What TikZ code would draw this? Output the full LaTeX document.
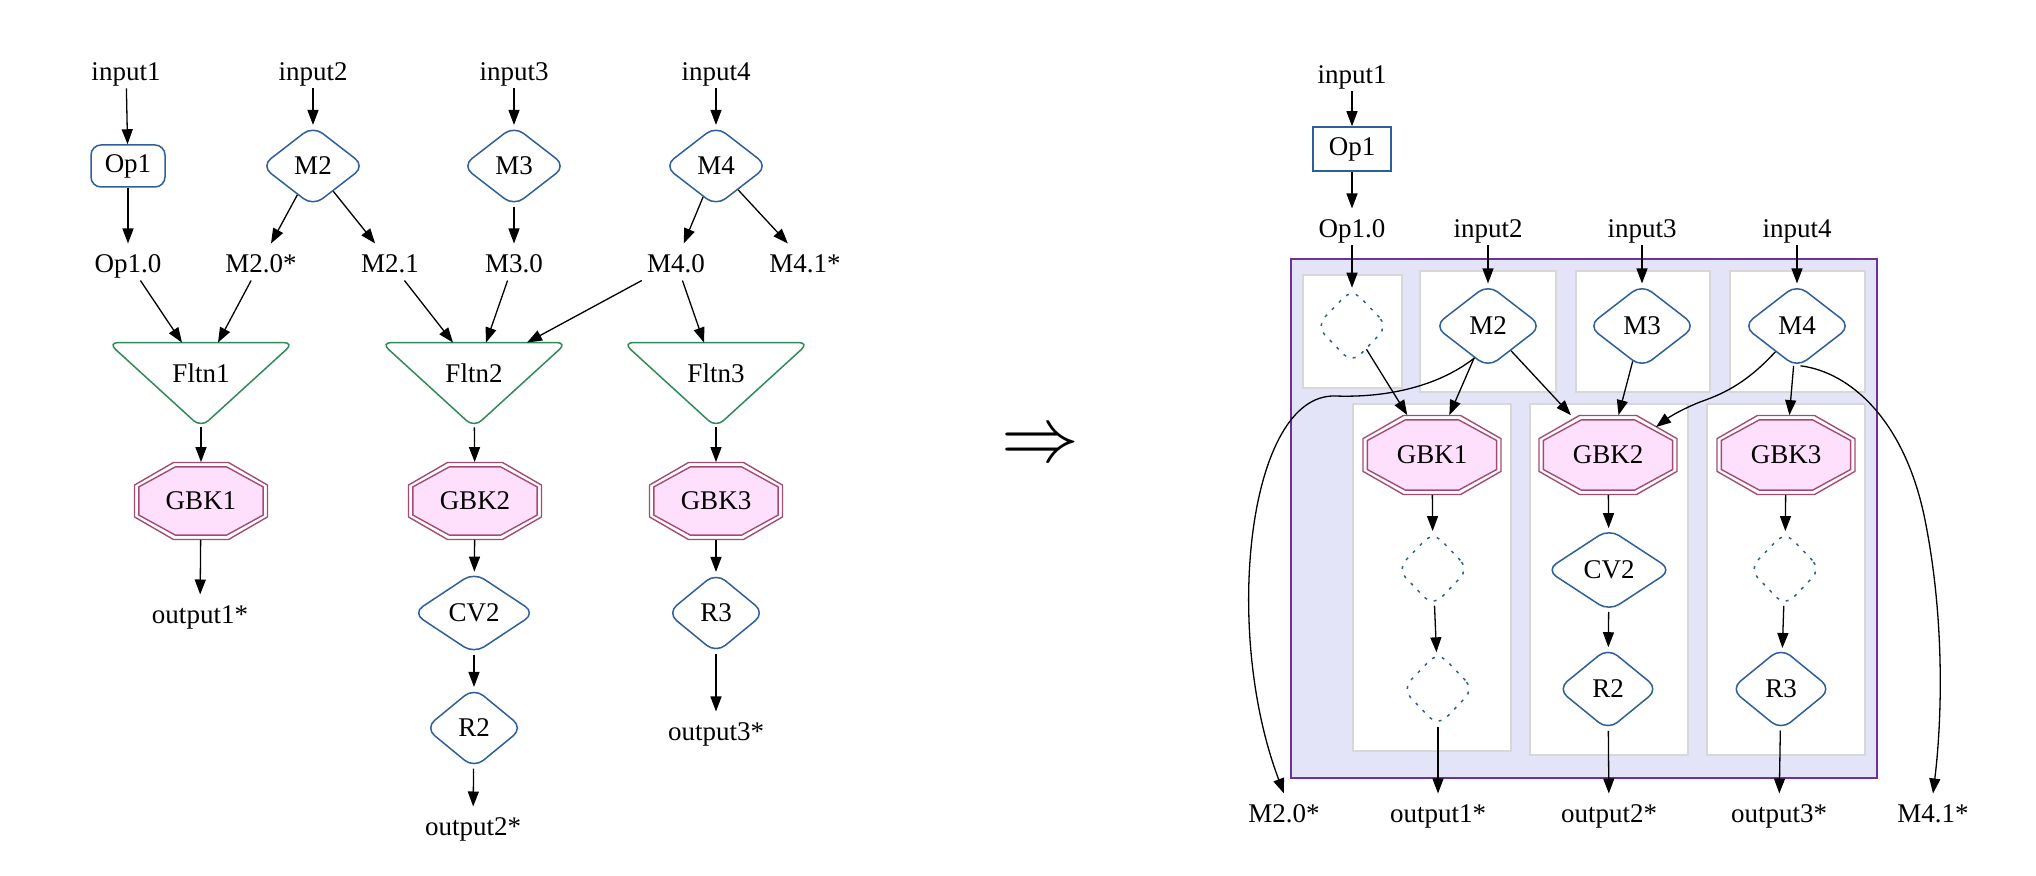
\documentclass[tikz,border=0pt]{standalone}
\usepackage{fontspec}
\setmainfont{Liberation Serif}
\usetikzlibrary{shapes.geometric,arrows.meta}

\definecolor{nodeblue}{RGB}{45,95,155}
\definecolor{fltngreen}{RGB}{46,139,87}
\definecolor{gbkcol}{RGB}{165,75,115}
\definecolor{gbkfill}{RGB}{255,224,252}
\definecolor{clusterfill}{RGB}{228,228,248}
\definecolor{clusterline}{RGB}{110,50,150}
\definecolor{subline}{RGB}{215,215,215}

% octagon round the origin, half width #1, half height #2
\newcommand{\octo}[2]{({-(#1)},{0.414*(#2)}) -- ({-0.414*(#1)},{#2}) -- ({0.414*(#1)},{#2}) -- ({#1},{0.414*(#2)}) -- ({#1},{-0.414*(#2)}) -- ({0.414*(#1)},{-(#2)}) -- ({-0.414*(#1)},{-(#2)}) -- ({-(#1)},{-0.414*(#2)}) -- cycle}
% double octagon node: name, position, label, half width, half height
\newcommand{\gbk}[5]{%
  \begin{scope}[shift={(#2)}]
    \draw[gbkedge] \octo{#4}{#5};
    \filldraw[gbkedge,fill=gbkfill] \octo{#4-2.2pt}{#5-2.2pt};
  \end{scope}
  \node[gbkbox,minimum width=2*#4,minimum height=2*#5] (#1) at (#2) {#3};}

\begin{document}
\begin{tikzpicture}[x=0.5pt,y=-0.5pt,font=\fontsize{13.5}{16}\selectfont,
  lbl/.style={inner sep=3pt,text height=11.5pt,text depth=0.6pt},
  mnode/.style={diamond,draw=nodeblue,line width=0.75pt,rounded corners=6pt,inner sep=0pt},
  ghost/.style={mnode,dash pattern=on 1.5pt off 3.5pt,minimum width=36pt,minimum height=37.5pt},
  opbox/.style={rectangle,draw=nodeblue,line width=0.75pt,minimum width=37pt,minimum height=21pt,inner sep=0pt},
  fltn/.style={minimum width=92.5pt,minimum height=42pt,inner sep=0pt,text height=9.3pt,text depth=12.1pt},
  fltnline/.style={draw=fltngreen,line width=0.75pt,rounded corners=5pt},
  gbkedge/.style={draw=gbkcol,line width=0.7pt},
  gbkbox/.style={inner sep=0pt},
  conn/.style={line width=0.65pt,-{Triangle[length=7.5pt,width=5.5pt]}},
  cluster/.style={fill=clusterfill,draw=clusterline,line width=0.75pt},
  subcluster/.style={fill=white,draw=subline,line width=0.9pt}]
\useasboundingbox (0,0) rectangle (2036,876);

% left graph
\node[lbl] (li1) at (126,70) {input1};
\node[lbl] (li2) at (313,70) {input2};
\node[lbl] (li3) at (514,70) {input3};
\node[lbl] (li4) at (716,70) {input4};
\node[opbox,rounded corners=5pt] (lop1) at (128,166) {Op1};
\node[mnode,minimum width=52pt,minimum height=40.3pt] (lm2) at (313,166) {M2};
\node[mnode,minimum width=52pt,minimum height=40.3pt] (lm3) at (514,166) {M3};
\node[mnode,minimum width=52pt,minimum height=40.3pt] (lm4) at (716,166) {M4};
\node[lbl] (lo10) at (128,262) {Op1.0};
\node[lbl] (lm20) at (261,262) {M2.0*};
\node[lbl] (lm21) at (390,262) {M2.1};
\node[lbl] (lm30) at (514,262) {M3.0};
\node[lbl] (lm40) at (676,262) {M4.0};
\node[lbl] (lm41) at (805,262) {M4.1*};
\node[fltn] (lf1) at (201,385) {Fltn1};
\node[fltn] (lf2) at (474,385) {Fltn2};
\node[fltn] (lf3) at (716,385) {Fltn3};
\foreach \f in {lf1,lf2,lf3}
  \draw[fltnline] (\f.north west) -- (\f.north east) -- (\f.south) -- cycle;
\gbk{lg1}{201,501}{GBK1}{33.25pt}{19.25pt}
\gbk{lg2}{475,501}{GBK2}{33.25pt}{19.25pt}
\gbk{lg3}{716,501}{GBK3}{33.25pt}{19.25pt}
\node[lbl] (lout1) at (200,613) {output1*};
\node[mnode,minimum width=61.5pt,minimum height=40.8pt] (lcv2) at (474,613) {CV2};
\node[mnode,minimum width=49pt,minimum height=40.3pt] (lr2) at (474,728) {R2};
\node[mnode,minimum width=49pt,minimum height=40.3pt] (lr3) at (716,613) {R3};
\node[lbl] (lout2) at (473,825) {output2*};
\node[lbl] (lout3) at (716,730) {output3*};

\foreach \a/\b in {li1/lop1,lop1/lo10,li2/lm2,lm2/lm20,lm2/lm21,li3/lm3,lm3/lm30,li4/lm4,lm4/lm40,lm4/lm41,
    lf1/lg1,lf2/lg2,lf3/lg3,lg1/lout1,lg2/lcv2,lcv2/lr2,lr2/lout2,lg3/lr3,lr3/lout3}
  \draw[conn] (\a) -- (\b);
\draw[conn] (lo10) -- ([xshift=-9.5pt]lf1.north);
\draw[conn] (lm20) -- ([xshift=8.5pt]lf1.north);
\draw[conn] (lm21) -- ([xshift=-10.5pt]lf2.north);
\draw[conn] (lm30) -- ([xshift=6pt]lf2.north);
\draw[conn] (lm40) -- ([xshift=26.5pt]lf2.north);
\draw[conn] (lm40) -- ([xshift=-6pt]lf3.north);

\node[scale=2.7] (becomes) at (1040,447) {$\Rightarrow$};

% right graph
\draw[cluster] (1291,259) rectangle (1877,778);
\foreach \xa/\ya/\xb/\yb in {1303/275/1402/388,1420/271/1556/392,1576/271/1710/392,1730/271/1865/392,
    1353/404/1511/751,1530/404/1688/755,1707/404/1865/755}
  \draw[subcluster] (\xa,\ya) rectangle (\xb,\yb);

\node[lbl] (ri1) at (1352,73) {input1};
\node[opbox,minimum width=39pt,minimum height=22pt] (rop1) at (1352,149) {Op1};
\node[lbl] (ro10) at (1352,227) {Op1.0};
\node[lbl] (ri2) at (1488,227) {input2};
\node[lbl] (ri3) at (1642,227) {input3};
\node[lbl] (ri4) at (1797,227) {input4};
\node[ghost] (rd0) at (1352,326) {};
\node[mnode,minimum width=54pt,minimum height=41.8pt] (rm2) at (1488,326) {M2};
\node[mnode,minimum width=54pt,minimum height=41.8pt] (rm3) at (1642,326) {M3};
\node[mnode,minimum width=54pt,minimum height=41.8pt] (rm4) at (1797,326) {M4};
\gbk{rg1}{1432,455}{GBK1}{34.5pt}{19.75pt}
\gbk{rg2}{1608,455}{GBK2}{34.5pt}{19.75pt}
\gbk{rg3}{1786,455}{GBK3}{34.5pt}{19.75pt}
\node[ghost] (rd1) at (1433,569) {};
\node[ghost] (rd2) at (1438,689) {};
\node[ghost] (rd3) at (1785,569) {};
\node[mnode,minimum width=63pt,minimum height=41.3pt] (rcv2) at (1609,570) {CV2};
\node[mnode,minimum width=50.5pt,minimum height=41.3pt] (rr2) at (1608,689) {R2};
\node[mnode,minimum width=50.5pt,minimum height=41.3pt] (rr3) at (1781,689) {R3};
\node[lbl] (rm20) at (1284,812) {M2.0*};
\node[lbl] (rout1) at (1438,812) {output1*};
\node[lbl] (rout2) at (1609,812) {output2*};
\node[lbl] (rout3) at (1779,812) {output3*};
\node[lbl] (rm41) at (1933,812) {M4.1*};

\foreach \a/\b in {ri1/rop1,rop1/ro10,ro10/rd0,rd0/rg1,ri2/rm2,rm2/rg1,rm2/rg2,ri3/rm3,rm3/rg2,ri4/rm4,rm4/rg3,
    rg1/rd1,rd1/rd2,rd2/rout1,rg2/rcv2,rcv2/rr2,rr2/rout2,rg3/rd3,rd3/rr3,rr3/rout3}
  \draw[conn] (\a) -- (\b);
\draw[conn] (rm2.247) .. controls (1440,385) and (1390,398) .. (1335,396)
  .. controls (1248,394) and (1222,630) .. (rm20.north);
\draw[conn] (rm4.230) .. controls (1745,385) and (1720,395) .. (1700,402)
  .. controls (1680,410) and (1668,418) .. ([shift={(24pt,14pt)}]rg2.center);
\draw[conn] (rm4.-85) .. controls (1850,372) and (1905,420) .. (1925,520)
  .. controls (1945,620) and (1942,720) .. (rm41.north);
\end{tikzpicture}
\end{document}
